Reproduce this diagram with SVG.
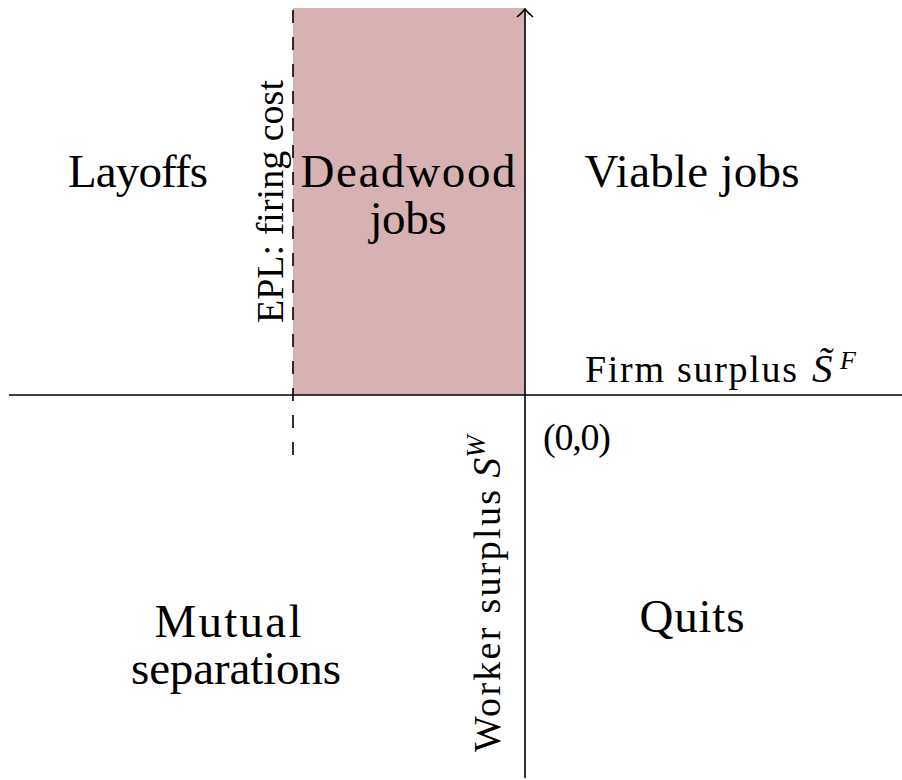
<svg xmlns="http://www.w3.org/2000/svg" width="902" height="780" viewBox="0 0 902 780">
<style>
.t{font-family:"Liberation Serif","Times New Roman",serif;fill:#000}
.big{font-size:47px;text-anchor:middle}
.mid{font-size:38px}
.it{font-style:italic}
.axis{stroke:#000;stroke-width:1.6;fill:none}
</style>
<rect width="902" height="780" fill="#fff"/>
<g id="deadwood-region">
<rect x="293" y="8" width="232" height="387" fill="#D8B1B3"/>
</g>
<g id="connectors">
<line class="axis" x1="9" y1="395" x2="902" y2="395"/>
<line class="axis" x1="525" y1="778" x2="525" y2="9"/>
<path class="axis" d="M517,17 Q522,13 525,9 Q528,13 533,17" stroke-width="1.4"/>
<line class="axis" x1="293" y1="10" x2="293" y2="461" stroke-dasharray="13 14"/>
</g>
<g id="layoffs"><text class="t big" x="138" y="187" textLength="140">Layoffs</text></g>
<g id="deadwood"><text class="t big" x="408" y="187" textLength="215">Deadwood</text><text class="t big" x="408" y="234" textLength="77">jobs</text></g>
<g id="viable"><text class="t big" x="692" y="187" textLength="215">Viable jobs</text></g>
<g id="mutual"><text class="t big" x="228" y="637" textLength="147">Mutual</text><text class="t big" x="236" y="684" textLength="210">separations</text></g>
<g id="quits"><text class="t big" x="692" y="632" textLength="105">Quits</text></g>
<g id="firm-label"><text class="t mid" x="585" y="382" textLength="212">Firm surplus</text><text class="t it" x="812" y="382" font-size="41">S̃</text><text class="t it" x="840" y="369" font-size="26">F</text></g>
<g id="origin"><text class="t mid" x="543" y="450" textLength="68">(0,0)</text></g>
<g id="worker-label"><text class="t mid" transform="translate(500,752) rotate(-90)"><tspan textLength="262">Worker surplus</tspan><tspan class="it" dx="10" font-size="40">S</tspan><tspan class="it" font-size="27" dy="-15">W</tspan></text></g>
<g id="epl-label"><text class="t mid" transform="translate(283,323) rotate(-90)" textLength="243">EPL: firing cost</text></g>
</svg>
